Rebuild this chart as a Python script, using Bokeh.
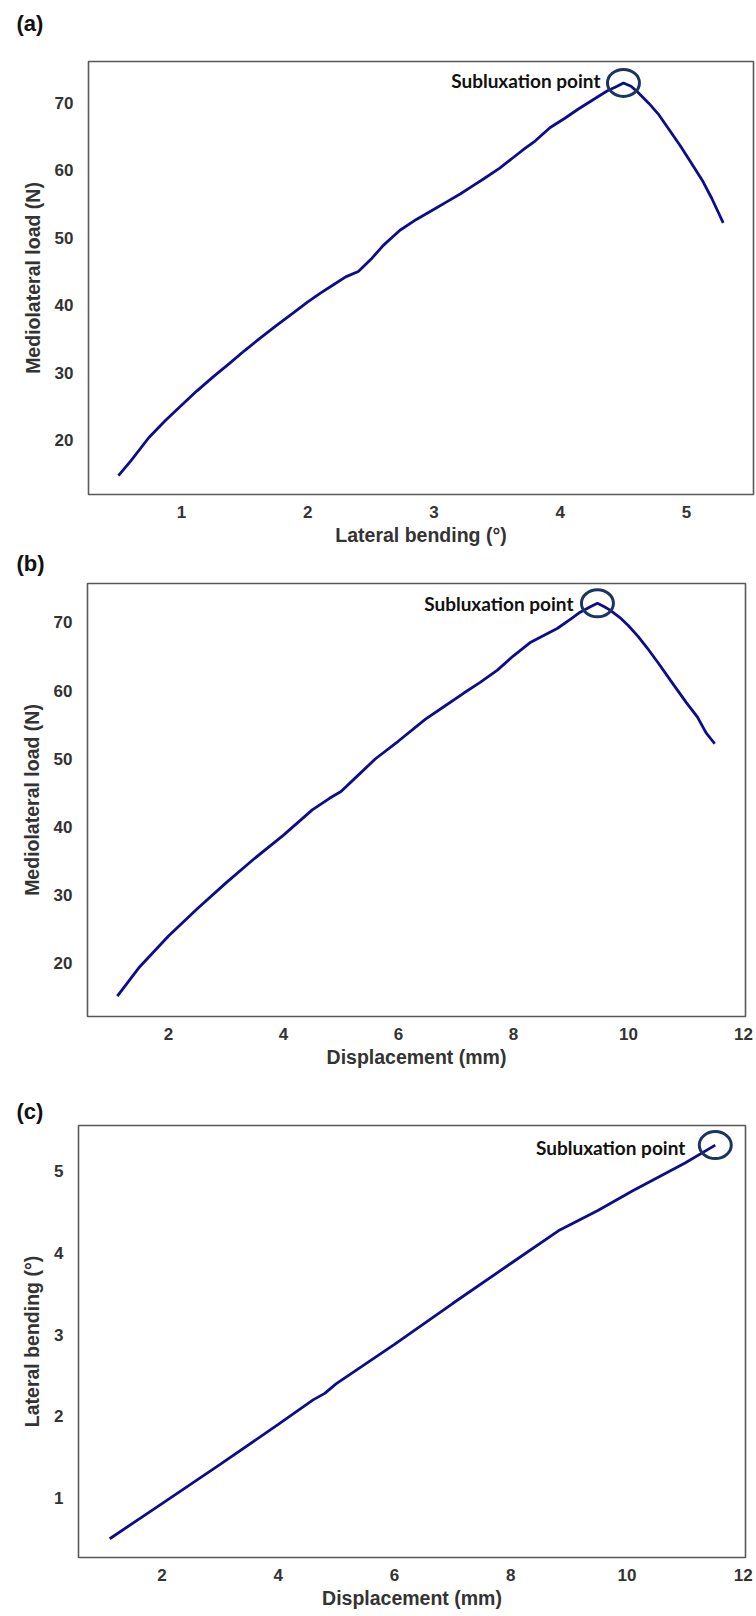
from bokeh.plotting import figure
from bokeh.models import Range1d, FixedTicker
from bokeh.core.properties import value
from bokeh.embed import file_html
from bokeh.resources import INLINE
import numpy as np

# ---------------- data ----------------
# (a) Mediolateral load vs lateral bending
bend_a = [0.50, 0.60, 0.74, 0.87, 1.00, 1.12, 1.25, 1.38, 1.50, 1.62, 1.75, 1.88, 2.00, 2.10, 2.20,
          2.30, 2.40, 2.50, 2.60, 2.73, 2.86, 3.00, 3.10, 3.21, 3.30, 3.40, 3.52, 3.63, 3.72, 3.80,
          3.92, 4.03, 4.14, 4.25, 4.37, 4.45, 4.50, 4.56, 4.61, 4.70, 4.78, 4.85, 4.95, 5.06, 5.13,
          5.20, 5.25, 5.29]
load_a = [14.8, 17.0, 20.4, 22.9, 25.2, 27.3, 29.4, 31.4, 33.3, 35.1, 37.0, 38.8, 40.5, 41.8, 43.0,
          44.2, 45.0, 46.8, 48.9, 51.1, 52.7, 54.2, 55.3, 56.5, 57.6, 58.8, 60.3, 61.9, 63.2, 64.3,
          66.3, 67.6, 69.0, 70.3, 71.7, 72.4, 72.9, 72.4, 71.6, 69.9, 68.2, 66.3, 63.6, 60.4, 58.3,
          55.8, 53.8, 52.2]

# (b) Mediolateral load vs displacement
disp_b = [1.11, 1.50, 2.00, 2.50, 3.00, 3.50, 4.00, 4.50, 4.80, 5.00, 5.30, 5.60, 6.00, 6.47, 6.80,
          7.13, 7.42, 7.72, 8.00, 8.30, 8.55, 8.76, 9.00, 9.16, 9.32, 9.46, 9.58, 9.68, 9.85, 10.00,
          10.17, 10.33, 10.53, 10.73, 11.00, 11.20, 11.35, 11.50]
load_b = [15.2, 19.5, 24.0, 28.0, 31.8, 35.4, 38.8, 42.5, 44.2, 45.2, 47.6, 50.0, 52.6, 55.8, 57.7,
          59.6, 61.2, 63.0, 65.1, 67.1, 68.2, 69.1, 70.5, 71.5, 72.2, 72.8, 72.3, 71.8, 70.7, 69.5,
          67.9, 66.2, 63.9, 61.5, 58.3, 56.1, 53.8, 52.2]

# (c) Lateral bending vs displacement
disp_c = [1.10, 2.00, 3.00, 4.00, 4.60, 4.80, 5.00, 6.00, 7.00, 8.00, 8.82, 9.50, 10.10, 11.00, 11.52]
bend_c = [0.50, 0.93, 1.41, 1.90, 2.20, 2.28, 2.40, 2.88, 3.38, 3.87, 4.27, 4.52, 4.76, 5.10, 5.32]

x_ticks_a = [1, 2, 3, 4, 5]
y_ticks_load = [20, 30, 40, 50, 60, 70]
x_ticks_disp = [2, 4, 6, 8, 10, 12]
y_ticks_c = [1, 2, 3, 4, 5]
panel_tags = ["(a)", "(b)", "(c)"]

LINE = "#0d0d8c"
CIRCLE = "#1c3461"
LBL = "#333333"
AXFONT = "Liberation Sans"
W = 756


def tag_fig(h, tag, cy):
    """A thin strip above each panel that carries its (a)/(b)/(c) tag."""
    t = figure(width=W, height=h, output_backend="svg", toolbar_location=None,
               x_range=Range1d(0, W), y_range=Range1d(h, 0),
               x_axis_type=None, y_axis_type=None,
               min_border_left=0, min_border_right=0, min_border_top=0, min_border_bottom=0)
    t.outline_line_color = None
    t.xgrid.visible = False
    t.ygrid.visible = False
    t.text(x=[16], y=[cy], text=[tag], text_font=value(AXFONT), text_font_style="bold",
           text_font_size="22px", text_color="#111111", text_align="left",
           text_baseline="middle")
    return t


def make_fig(h, xr, yr, bl, br, bt, bb, xlab, ylab, xt, yt):
    p = figure(width=W, height=h, output_backend="svg", toolbar_location=None,
               x_range=Range1d(*xr), y_range=Range1d(*yr),
               min_border_left=bl, min_border_right=br, min_border_top=bt, min_border_bottom=bb)
    p.xgrid.visible = False
    p.ygrid.visible = False
    p.outline_line_color = "#5a5a5a"
    p.outline_line_width = 1.6
    p.background_fill_color = "white"
    p.border_fill_color = "white"
    for ax, lab, t in ((p.xaxis[0], xlab, xt), (p.yaxis[0], ylab, yt)):
        ax.ticker = FixedTicker(ticks=t)
        ax.axis_line_color = None
        ax.major_tick_line_color = None
        ax.minor_tick_line_color = None
        ax.major_tick_out = 0
        ax.major_tick_in = 0
        ax.axis_label = lab
        ax.axis_label_text_font = AXFONT
        ax.axis_label_text_font_style = "bold"
        ax.axis_label_text_font_size = "19.5px"
        ax.axis_label_text_color = LBL
        ax.major_label_text_font = AXFONT
        ax.major_label_text_font_style = "bold"
        ax.major_label_text_font_size = "17px"
        ax.major_label_text_color = LBL
    p.xaxis.major_label_standoff = 11
    p.xaxis.axis_label_standoff = 3
    p.yaxis.major_label_standoff = 15
    p.yaxis.axis_label_standoff = 8
    return p


def annotate(p, xs, ys, dx, dy):
    p.line(xs, ys, line_color=LINE, line_width=2.8)
    i = int(np.argmax(ys))
    p.ellipse(x=[xs[i]], y=[ys[i]], width=32, height=27, width_units="screen",
              height_units="screen", fill_alpha=0, line_color=CIRCLE, line_width=3)
    p.text(x=[xs[i]], y=[ys[i]], text=["Subluxation point"], text_font=value("Lato"),
           text_font_style="bold", text_font_size="19px", text_color="#111111",
           text_align="right", text_baseline="middle", x_offset=dx, y_offset=dy)


ta = tag_fig(48, panel_tags[0], 23)
pa = make_fig(502, (0.263, 5.53), (12.0, 76.07), 88, 3, 13, 56,
              "Lateral bending (°)", "Mediolateral load (N)", x_ticks_a, y_ticks_load)
annotate(pa, bend_a, load_a, -23, -2)

tb = tag_fig(28, panel_tags[1], 13)
pb = make_fig(519, (0.591, 12.035), (12.2, 75.7), 87, 11, 5, 81,
              "Displacement (mm)", "Mediolateral load (N)", x_ticks_disp, y_ticks_load)
annotate(pb, disp_b, load_b, -24, 0)

tc = tag_fig(27, panel_tags[2], 14)
pc = make_fig(493, (0.563, 12.04), (0.27, 5.56), 78, 11, 1, 60,
              "Displacement (mm)", "Lateral bending (°)", x_ticks_disp, y_ticks_c)
annotate(pc, disp_c, bend_c, -30, 2)

# separate roots, stacked in page order (no frame alignment between panels)
open("out.html", "w").write(file_html([ta, pa, tb, pb, tc, pc], INLINE))
